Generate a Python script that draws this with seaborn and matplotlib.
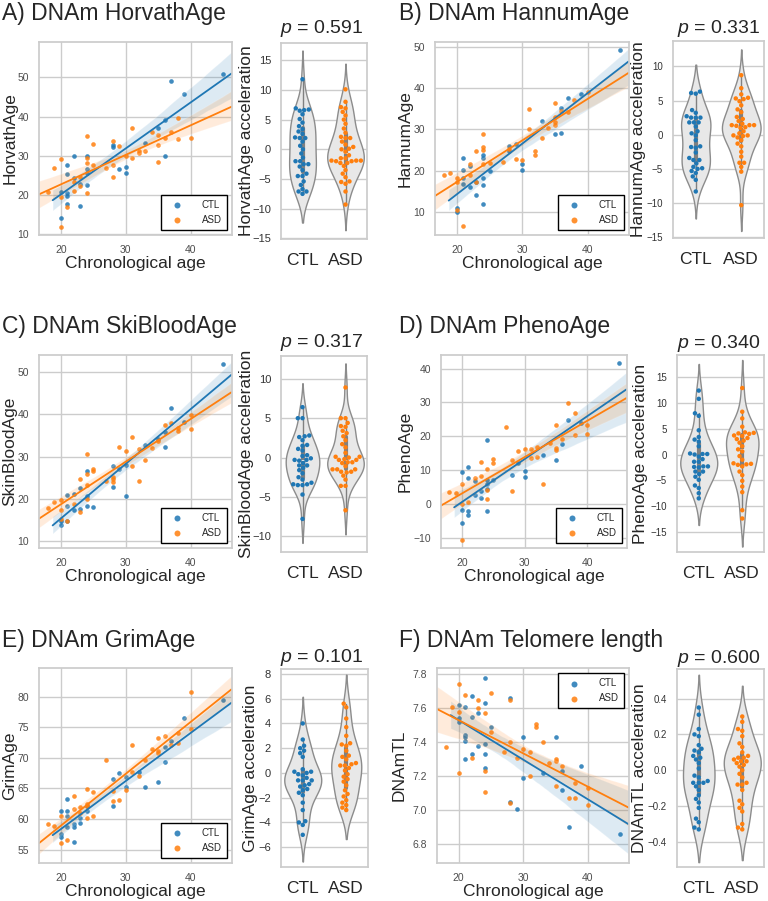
import numpy as np
import pandas as pd
import seaborn as sns
import matplotlib
matplotlib.use("Agg")
import matplotlib.pyplot as plt
from matplotlib.ticker import MultipleLocator

# ---- data ------------------------------------------------------------------
GROUPS = ["CTL", "ASD"]

# A) Horvath
HORVATH_CTL_AGE = [45, 37, 39, 36, 35, 33, 28, 28, 36, 29, 30, 30, 24, 24, 24, 24, 22, 22, 21, 21, 21, 21, 21, 20, 20, 23, 23]
HORVATH_CTL = [50.9, 49.1, 45.8, 39.0, 37.2, 33.3, 32.8, 32.3, 29.9, 26.7, 27.2, 25.5, 29.9, 26.7, 25.5, 22.6, 29.9, 24.3,
               27.7, 25.4, 20.5, 19.7, 17.8, 20.8, 14.1, 22.9, 17.3]
HORVATH_ASD_AGE = [18, 19, 20, 20, 20, 21, 22, 22, 23, 23, 24, 24, 24, 24, 25, 25, 27, 28, 28, 28, 29, 30, 31, 31, 32, 32,
                   33, 34, 35, 35, 35, 36, 37, 38, 38, 40]
HORVATH_ASD = [20.8, 27.0, 29.3, 19.4, 11.9, 17.0, 20.9, 23.2, 22.2, 24.5, 35.1, 29.4, 28.1, 20.4, 33.0, 27.7, 27.0, 33.7,
               24.5, 27.6, 32.5, 29.9, 37.2, 29.4, 30.7, 31.1, 31.3, 36.1, 35.4, 32.8, 28.3, 34.5, 36.1, 39.5, 34.2, 34.5]
HORVATH_ACC_CTL = [11.8, 6.9, 6.7, 6.6, 6.5, 5.9, 5.1, 4.5, 3.9, 3.4, 3.0, 2.6, 2.0, 1.9, 1.9, 1.3, 0.6, 0.0, -0.7, -1.4,
                   -2.0, -2.0, -2.5, -2.5, -2.9, -3.5, -4.1, -4.5, -4.5, -5.4, -6.0, -6.7, -7.1, -7.1, -7.5]
HORVATH_ACC_ASD = [10.1, 8.0, 7.1, 6.9, 6.3, 5.7, 5.0, 4.3, 3.5, 2.8, 2.1, 1.9, 1.9, 1.3, 0.8, 0.4, 0.0, 0.1, -0.4, -1.0,
                   -1.5, -1.5, -1.9, -1.9, -1.9, -2.0, -2.0, -2.3, -2.3, -2.8, -3.5, -4.1, -4.7, -5.4, -5.5, -5.8, -7.1, -9.3]

# B) Hannum
HANNUM_CTL_AGE = [45, 39, 37, 36, 36, 35, 33, 29, 28, 28, 30, 30, 25, 24, 24, 24, 24, 24, 23, 23, 22, 22, 21, 21, 21, 21, 20, 20]
HANNUM_CTL = [49.3, 38.7, 37.6, 35.3, 29.1, 28.8, 32.0, 26.5, 25.9, 24.7, 21.5, 20.2, 19.8, 23.9, 23.1, 18.2, 16.6, 12.0,
              14.2, 17.3, 21.2, 16.0, 23.1, 20.1, 18.2, 16.8, 11.0, 10.0]
HANNUM_ASD_AGE = [18, 19, 20, 20, 20, 21, 22, 22, 23, 23, 24, 24, 24, 24, 25, 27, 28, 29, 30, 31, 31, 32, 32, 33, 34, 35,
                  35, 35, 35, 36, 37, 38, 40]
HANNUM_ASD = [18.9, 19.4, 18.2, 17.3, 10.5, 6.5, 21.5, 19.0, 24.7, 17.3, 29.0, 25.7, 25.1, 21.6, 21.8, 22.0, 25.3, 22.9,
              22.7, 34.9, 30.1, 24.8, 23.7, 27.9, 30.3, 36.4, 32.9, 31.8, 31.0, 34.5, 34.2, 37.1, 39.1]
HANNUM_ACC_CTL = [6.3, 6.1, 6.0, 3.6, 3.2, 2.7, 2.5, 2.5, 2.5, 1.8, 1.8, 1.8, 1.2, 0.5, 0.2, -0.1, -0.8, -1.7, -1.8, -1.9,
                  -2.6, -3.4, -3.7, -3.7, -4.2, -4.7, -4.9, -5.0, -5.3, -5.6, -6.1, -6.6, -8.3]
HANNUM_ACC_ASD = [8.7, 6.8, 5.9, 5.4, 5.3, 5.2, 4.9, 4.3, 3.7, 3.3, 2.6, 2.3, 2.0, 1.6, 1.4, 1.4, 1.3, 1.4, 1.1, 1.0, 0.5,
                  0.2, -0.1, -0.1, -0.2, -0.4, -0.8, -1.3, -1.7, -2.5, -3.2, -4.1, -4.1, -4.7, -5.4, -10.3]

# C) Skin & blood
SKIN_CTL_AGE = [45, 37, 39, 36, 36, 33, 35, 30, 30, 29, 28, 28, 24, 24, 24, 25, 23, 23, 22, 22, 21, 21, 21, 20, 20]
SKIN_CTL = [51.9, 41.5, 38.3, 35.8, 32.3, 32.8, 34.1, 28.1, 20.6, 27.0, 27.7, 22.7, 26.6, 20.6, 18.2, 18.0, 22.5, 17.6,
            21.2, 17.2, 20.8, 18.3, 14.7, 14.6, 13.7]
SKIN_ASD_AGE = [18, 19, 20, 20, 20, 21, 22, 23, 23, 24, 24, 24, 24, 25, 25, 27, 28, 28, 28, 29, 30, 31, 31, 32, 32, 33,
                34, 35, 36, 37, 38, 38, 40, 40]
SKIN_ASD = [17.9, 19.1, 19.6, 17.2, 15.3, 14.6, 18.7, 24.7, 16.8, 30.6, 25.9, 23.2, 20.0, 27.0, 26.5, 24.3, 25.1, 24.6,
            24.0, 32.3, 31.3, 27.7, 34.6, 31.9, 24.1, 29.3, 32.0, 33.8, 37.5, 38.0, 36.8, 36.0, 39.8, 36.6]
SKIN_ACC_CTL = [6.4, 5.0, 5.0, 2.8, 2.7, 2.6, 2.2, 1.6, 1.5, 0.9, 0.3, 0.2, -0.3, -0.3, -0.4, -0.7, -1.0, -1.0, -1.6,
                -2.0, -2.5, -2.8, -3.2, -3.4, -3.4, -3.5, -3.5, -4.7, -7.8, -0.1, -1.3, 1.1]
SKIN_ACC_ASD = [8.9, 5.0, 5.0, 4.4, 4.0, 3.9, 3.4, 3.1, 2.7, 2.2, 1.7, 1.3, 0.6, 0.1, 0.1, 0.0, -0.3, -0.3, -0.2, -0.6,
                -0.7, -0.6, -1.1, -1.5, -1.5, -1.5, -1.8, -1.8, -1.9, -2.3, -2.8, -3.6, -3.6, -6.7]

# D) Pheno
PHENO_CTL_AGE = [45, 37, 39, 36, 35, 33, 29, 28, 30, 30, 24, 24, 24, 24, 24, 25, 23, 23, 22, 22, 21, 21, 21, 21, 20, 20, 20]
PHENO_CTL = [41.5, 24.8, 23.9, 17.6, 12.9, 14.4, 12.2, 8.5, 9.8, 8.0, 18.8, 7.0, 5.9, 4.5, -2.0, 7.2, 3.7, 1.8, 6.9, 2.6,
             10.9, 7.7, -2.0, -3.3, 9.5, -1.9, -5.7]
PHENO_ASD_AGE = [18, 19, 20, 20, 20, 21, 22, 23, 23, 24, 24, 24, 25, 25, 27, 28, 28, 29, 30, 31, 31, 32, 32, 33, 34, 35,
                 35, 35, 36, 37, 38, 38, 40, 40]
PHENO_ASD = [3.5, 3.3, 5.9, 0.1, -10.7, 0.6, 7.7, 8.2, 12.4, 10.4, 4.2, 1.4, 13.2, 12.2, 22.8, 13.1, 3.7, 15.6, 16.2,
             16.2, 13.6, 16.8, 13.8, 5.9, 18.1, 23.4, 16.6, 15.9, 19.1, 29.7, 26.9, 20.5, 23.4, 20.8]
PHENO_ACC_CTL = [12.4, 10.8, 8.0, 7.5, 4.7, 3.4, 2.9, 2.5, 1.6, 0.1, 0.1, 0.2, 0.0, -0.4, -1.4, -1.4, -2.3, -2.4, -2.3,
                 -2.5, -3.3, -3.3, -4.3, -4.9, -6.0, -6.5, -7.5, -8.5, -0.9, -3.8]
PHENO_ACC_ASD = [12.9, 8.3, 7.0, 5.4, 4.3, 4.2, 4.1, 4.0, 3.6, 3.7, 3.0, 2.3, 1.6, 0.6, -0.3, -1.7, -1.8, -1.9, -2.0,
                 -2.3, -3.3, -4.0, -5.1, -6.2, -7.3, -10.8, -12.4, 3.2, 1.0, -1.0, 2.7]

# E) Grim
GRIM_CTL_AGE = [45, 39, 37, 36, 36, 35, 33, 32, 30, 30, 29, 28, 28, 24, 24, 23, 23, 22, 22, 22, 21, 21, 21, 21, 20, 20, 20]
GRIM_CTL = [79.4, 76.5, 72.7, 71.8, 69.4, 66.1, 65.3, 67.7, 66.8, 65.2, 67.5, 66.6, 62.2, 61.3, 62.2, 60.2, 59.4, 59.2,
            58.7, 56.2, 63.3, 61.3, 60.5, 58.7, 61.3, 57.6, 57.1]
GRIM_ASD_AGE = [18, 19, 20, 20, 21, 22, 22, 23, 23, 24, 24, 24, 24, 25, 25, 27, 28, 28, 29, 30, 31, 31, 32, 33, 34, 35,
                35, 35, 36, 37, 38, 38, 40, 40]
GRIM_ASD = [59.2, 58.9, 60.5, 56.0, 56.5, 61.6, 63.8, 61.9, 61.0, 64.9, 62.4, 62.2, 60.1, 64.4, 60.5, 69.6, 64.5, 62.9,
            63.1, 64.7, 72.1, 67.7, 67.1, 69.6, 71.4, 73.2, 71.1, 70.8, 73.6, 72.1, 74.1, 72.5, 80.8, 74.8]
GRIM_ACC_CTL = [4.0, 2.7, 2.2, 2.0, 1.8, 1.6, 1.3, 0.1, 0.1, -0.1, 0.0, -0.4, -0.6, -0.6, -0.6, -0.9, -1.1, -1.4, -1.3,
                -1.6, -1.8, -2.4, -3.0, -4.0, -3.9, -4.2, -5.0, 0.3, -0.2, -1.0]
GRIM_ACC_ASD = [5.6, 5.3, 4.4, 3.7, 3.0, 2.4, 2.3, 2.2, 1.8, 1.4, 1.1, 0.8, 0.6, 0.6, 0.7, 0.4, -0.1, -0.3, -0.7, -1.0,
                -1.4, -1.7, -1.9, -2.2, -2.4, -2.8, -3.0, 1.3, 0.2, -0.5, -2.6]

# F) Telomere length
TL_CTL_AGE = [24, 24, 24, 24, 24, 23, 23, 22, 22, 22, 21, 21, 21, 21, 21, 20, 20, 20, 25, 28, 28, 29, 30, 30, 33, 35, 36,
              36, 37, 39, 45]
TL_CTL = [7.78, 7.63, 7.39, 7.33, 7.25, 7.57, 7.38, 7.67, 7.55, 7.33, 7.61, 7.44, 7.43, 7.41, 7.30, 7.62, 7.54, 7.52,
          7.49, 7.66, 7.05, 7.01, 7.43, 7.19, 7.22, 7.43, 7.23, 7.12, 6.90, 7.26, 6.86]
TL_ASD_AGE = [18, 19, 20, 20, 20, 21, 22, 23, 23, 24, 24, 24, 25, 25, 27, 28, 28, 28, 29, 30, 31, 31, 32, 32, 33, 34, 35,
              35, 35, 36, 37, 38, 38, 40, 40]
TL_ASD = [7.37, 7.61, 7.74, 7.58, 7.22, 7.68, 7.31, 7.65, 7.60, 7.57, 7.23, 7.11, 7.69, 7.46, 7.34, 7.65, 7.40, 7.04,
          7.31, 7.36, 7.34, 7.20, 7.51, 7.49, 7.40, 7.28, 7.30, 7.29, 7.14, 7.26, 7.07, 7.16, 7.07, 7.13, 7.03]
TL_ACC_CTL = [0.35, 0.31, 0.23, 0.20, 0.19, 0.14, 0.12, 0.11, 0.10, 0.08, 0.07, 0.04, 0.01, -0.03, -0.06, -0.07, -0.07,
              -0.07, -0.09, -0.11, -0.14, -0.16, -0.18, -0.21, -0.27, -0.29, -0.32, -0.33, -0.04, 0.06]
TL_ACC_ASD = [0.30, 0.27, 0.23, 0.22, 0.19, 0.15, 0.13, 0.10, 0.08, 0.07, 0.07, 0.06, 0.05, 0.05, 0.04, 0.02, 0.00,
              -0.02, -0.04, -0.07, -0.08, -0.11, -0.17, -0.19, -0.21, -0.23, -0.30, -0.32, -0.33, 0.03, -0.08]

TITLES = ["A) DNAm HorvathAge", "B) DNAm HannumAge", "C) DNAm SkiBloodAge",
          "D) DNAm PhenoAge", "E) DNAm GrimAge", "F) DNAm Telomere length"]
YLABELS = ["HorvathAge", "HannumAge", "SkinBloodAge", "PhenoAge", "GrimAge", "DNAmTL"]
P_VALUES = ["0.591", "0.331", "0.317", "0.340", "0.101", "0.600"]

# ---- style -------------------------------------------------------------------
sns.set_theme(style="whitegrid")
plt.rcParams['font.family'] = ['Liberation Sans', 'DejaVu Sans']
plt.rcParams['mathtext.fontset'] = 'custom'
plt.rcParams['mathtext.it'] = 'Liberation Sans:italic'
plt.rcParams['mathtext.rm'] = 'Liberation Sans'

PAL = {"CTL": "#1f77b4", "ASD": "#ff7f0e"}
W, H = 768, 901

fig = plt.figure(figsize=(W / 100, H / 100), dpi=100)


def px_axes(l, t, r, b):
    return fig.add_axes([l / W, 1 - b / H, (r - l) / W, (b - t) / H])


def place_ylabel(ax, box, center_px):
    l, t, r, b = box
    ax.yaxis.label.set_va("center")
    ax.yaxis.set_label_coords((center_px - l) / (r - l), 0.5)


def draw_panel(i, scatter_box, violin_box, ctl_age, ctl, asd_age, asd, acc_ctl, acc_asd,
               title_xy, p_xy, s_ylim, v_ylim, v_step, ylab_x, v_tick=8.5, legend_loc="lower right"):
    ax = px_axes(*scatter_box)
    for name, age, val in [("CTL", ctl_age, ctl), ("ASD", asd_age, asd)]:
        sns.regplot(x=age, y=val, ax=ax, color=PAL[name], truncate=False, label=name,
                    scatter_kws=dict(s=11, alpha=0.85, linewidths=0),
                    line_kws=dict(lw=1.3))
    ax.set_xlim(16.65, 46.35)
    ax.set_ylim(*s_ylim)
    ax.set_xticks([20, 30, 40])
    ax.set_xlabel("Chronological age", fontsize=12.5, labelpad=1)
    ax.set_ylabel(YLABELS[i], fontsize=12.5)
    place_ylabel(ax, scatter_box, ylab_x[0])
    ax.tick_params(labelsize=7.5, labelcolor=".3", pad=1.2)
    leg = ax.legend(loc=legend_loc, fontsize=7, frameon=True, fancybox=False, framealpha=1,
                    borderpad=0.55, handletextpad=1.6, labelspacing=0.5, borderaxespad=0.5,
                    markerscale=1.3)
    leg.get_frame().set_edgecolor("black")
    leg.get_frame().set_linewidth(1.0)

    vax = px_axes(*violin_box)
    df = pd.DataFrame({
        "group": ["CTL"] * len(acc_ctl) + ["ASD"] * len(acc_asd),
        "acc": list(acc_ctl) + list(acc_asd),
    })
    sns.violinplot(data=df, x="group", y="acc", order=GROUPS, color="0.91", linecolor="0.55",
                   linewidth=1, inner="box", inner_kws=dict(box_width=3, whis_width=1, color="0.5"),
                   width=0.85, ax=vax)
    sns.swarmplot(data=df, x="group", y="acc", order=GROUPS, hue="group", hue_order=GROUPS,
                  palette=PAL, size=3.2, legend=False, ax=vax)
    vax.set_ylim(*v_ylim)
    vax.yaxis.set_major_locator(MultipleLocator(v_step))
    vax.set_xlabel("")
    vax.set_ylabel(YLABELS[i] + " acceleration", fontsize=12.5)
    place_ylabel(vax, violin_box, ylab_x[1])
    vax.tick_params(axis="x", labelsize=12.5, pad=4)
    vax.tick_params(axis="y", labelsize=v_tick, labelcolor=".2", pad=1.2)

    fig.text(title_xy[0] / W, 1 - title_xy[1] / H, TITLES[i], fontsize=16.5, va="baseline", ha="left")
    fig.text(p_xy[0] / W, 1 - p_xy[1] / H, r"$p$ = " + P_VALUES[i], fontsize=14,
             va="baseline", ha="center")


draw_panel(0, (39, 42, 232, 235), (281, 43, 367, 239), HORVATH_CTL_AGE, HORVATH_CTL, HORVATH_ASD_AGE,
           HORVATH_ASD, HORVATH_ACC_CTL, HORVATH_ACC_ASD, (2, 20), (322, 33),
           (9.8, 59.0), (-15.1, 17.9), 5, (10, 246), v_tick=8)
draw_panel(1, (435, 42, 629, 235), (673, 41, 764, 238), HANNUM_CTL_AGE, HANNUM_CTL, HANNUM_ASD_AGE,
           HANNUM_ASD, HANNUM_ACC_CTL, HANNUM_ACC_ASD, (399, 20), (719, 33),
           (4.4, 51.2), (-15.1, 13.7), 5, (405, 639), v_tick=7)
draw_panel(2, (39, 355, 232, 548), (281, 356, 367, 552), SKIN_CTL_AGE, SKIN_CTL, SKIN_ASD_AGE,
           SKIN_ASD, SKIN_ACC_CTL, SKIN_ACC_ASD, (2, 333), (322, 347),
           (8.3, 54.1), (-12.0, 12.9), 5, (10, 246), v_tick=8)
draw_panel(3, (441, 355, 627, 548), (677, 355, 764, 552), PHENO_CTL_AGE, PHENO_CTL, PHENO_ASD_AGE,
           PHENO_ASD, PHENO_ACC_CTL, PHENO_ACC_ASD, (399, 333), (719, 348),
           (-13.0, 44.0), (-18.9, 19.3), 5, (405, 641), v_tick=7)
draw_panel(4, (39, 668, 232, 863), (281, 669, 368, 867), GRIM_CTL_AGE, GRIM_CTL, GRIM_ASD_AGE,
           GRIM_ASD, GRIM_ACC_CTL, GRIM_ACC_ASD, (2, 647), (322, 662),
           (52.8, 84.7), (-7.6, 8.4), 2, (10, 250), v_tick=8)
draw_panel(5, (437, 668, 629, 863), (677, 669, 764, 867), TL_CTL_AGE, TL_CTL, TL_ASD_AGE,
           TL_ASD, TL_ACC_CTL, TL_ACC_ASD, (399, 647), (719, 663),
           (6.69, 7.837), (-0.54, 0.565), 0.2, (399, 639), v_tick=7, legend_loc="upper right")

fig.savefig("out.png", dpi=100)
